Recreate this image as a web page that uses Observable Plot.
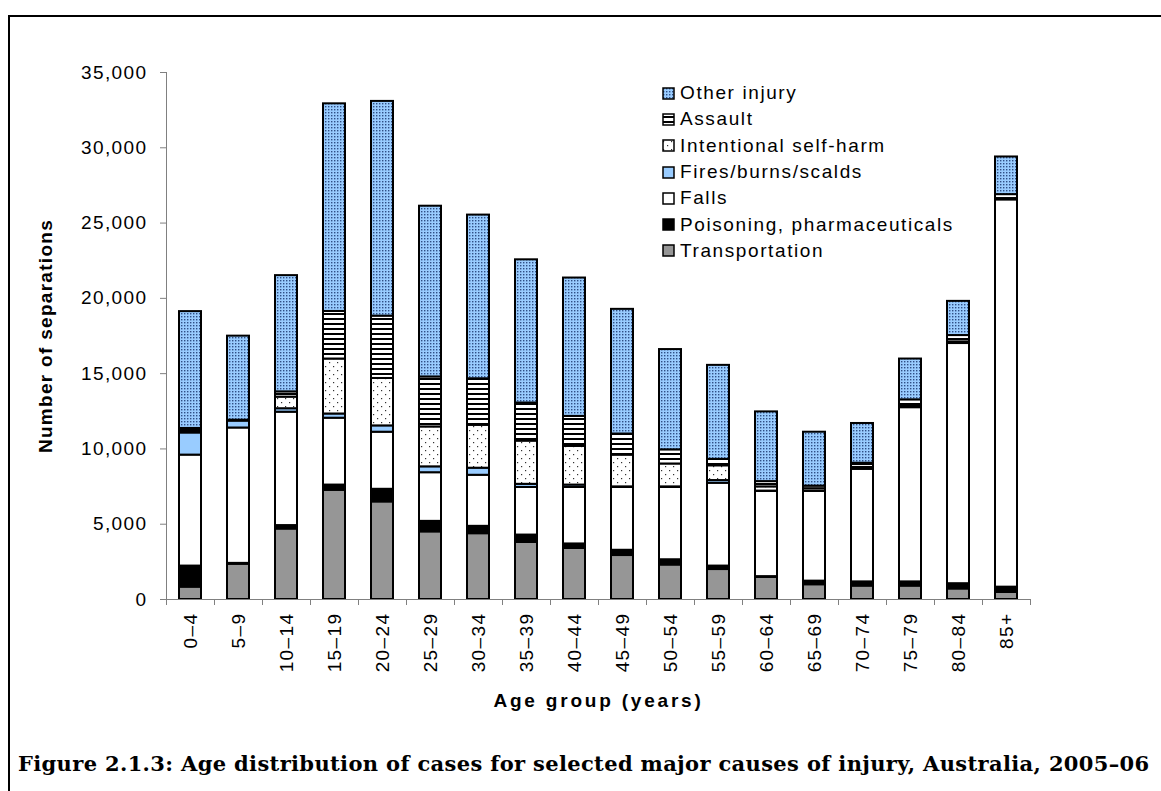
<!DOCTYPE html>
<html>
<head>
<meta charset="utf-8">
<script src="https://cdn.jsdelivr.net/npm/d3@7"></script>
<script src="https://cdn.jsdelivr.net/npm/@observablehq/plot@0.6"></script>
<style>
  html, body { margin: 0; padding: 0; background: #fff; }
  body { width: 1161px; height: 791px; position: relative; overflow: hidden; font-family: "Liberation Sans", Arimo, Arial, sans-serif; }
  #frame { position: absolute; left: 8px; top: 15px; right: -10px; bottom: -10px; border-left: 2px solid #000; border-top: 2px solid #000; }
  #chart { position: absolute; left: 0; top: 0; }
  #legend { position: absolute; left: 662px; top: 80px; font-size: 19px; letter-spacing: 1.6px; color: #000; }
  #legend .row { display: flex; align-items: center; height: 26.3px; }
  #legend svg { margin-right: 5px; }
  #caption { position: absolute; left: 18px; top: 751px; font-family: "DejaVu Serif", "Liberation Serif", serif; font-weight: bold; font-size: 21px; letter-spacing: 0.35px; white-space: nowrap; color: #000; }
</style>
</head>
<body>
<div id="frame"></div>
<div id="chart"></div>
<div id="legend"></div>
<div id="caption">Figure 2.1.3: Age distribution of cases for selected major causes of injury, Australia, 2005–06</div>
<script>
const ages = ["0–4","5–9","10–14","15–19","20–24","25–29","30–34","35–39","40–44","45–49","50–54","55–59","60–64","65–69","70–74","75–79","80–84","85+"];
const causes = ["Transportation","Poisoning, pharmaceuticals","Falls","Fires/burns/scalds","Intentional self-harm","Assault","Other injury"];
const transportation = [820,2340,4680,7250,6480,4490,4370,3790,3390,2920,2290,1990,1470,980,890,890,700,470];
const poisoning      = [1400,60,230,350,840,700,490,490,300,350,350,230,50,240,280,280,350,350];
const falls          = [7370,8990,7530,4440,3790,3230,3390,3160,3750,4170,4800,5500,5660,5960,7480,11570,15950,25720];
const fires          = [1470,460,230,280,420,390,470,210,160,40,40,180,20,20,20,50,50,50];
const selfHarm       = [100,30,770,3650,3150,2650,2850,2870,2570,2110,1520,980,280,160,100,70,60,40];
const assault        = [200,30,350,3160,4140,3320,3090,2530,1990,1400,940,430,350,170,280,400,420,260];
const otherInjury    = [7760,5580,7720,13790,14260,11340,10870,9510,9190,8280,6660,6240,4630,3580,2640,2710,2270,2500];
const yTicks = [0,5000,10000,15000,20000,25000,30000,35000];

const seriesValues = [transportation, poisoning, falls, fires, selfHarm, assault, otherInjury];
const fills = ["#969696","#000000","#ffffff","#99ccff","url(#pat-dots)","url(#pat-stripes)","url(#pat-stipple)"];

const data = [];
causes.forEach((c, ci) => ages.forEach((a, ai) => data.push({age: a, cause: c, value: seriesValues[ci][ai]})));

const W = 1161, H = 730, ML = 166, MR = 131, MT = 72, MB = 131;
const half = (W - ML - MR) / ages.length / 2;
const font = "'Liberation Sans', Arimo, Arial, sans-serif";

const chart = Plot.plot({
  width: W, height: H,
  marginLeft: ML, marginRight: MR, marginTop: MT, marginBottom: MB,
  style: {fontFamily: font, fontSize: "19px", color: "#000", background: "transparent"},
  x: {domain: ages, paddingInner: 0.54, paddingOuter: 0.27},
  y: {domain: [0, 35000]},
  color: {domain: causes, range: fills},
  marks: [
    Plot.barY(data, Plot.stackY({x: "age", y: "value", fill: "cause", stroke: "#000", strokeWidth: 2})),
    Plot.ruleY([0], {stroke: "#808080", strokeWidth: 1}),
    Plot.ruleX([ages[0]], {y1: 0, y2: 35000, dx: -half, stroke: "#808080", strokeWidth: 1}),
    Plot.ruleX(ages, {y1: 0, y2: 0, insetBottom: -6, dx: -half, stroke: "#808080", strokeWidth: 1}),
    Plot.ruleX([ages[ages.length - 1]], {y1: 0, y2: 0, insetBottom: -6, dx: half, stroke: "#808080", strokeWidth: 1}),
    Plot.axisY({ticks: yTicks, tickFormat: d3.format(","), tickSize: 6, tickPadding: 13, stroke: "#808080", fill: "#000", label: null}),
    Plot.axisY({ticks: [], label: "Number of separations", labelArrow: false, labelAnchor: "center", labelOffset: 128, fontWeight: "bold"}),
    Plot.axisX({tickSize: 0, tickPadding: 13, tickRotate: -90, fill: "#000", label: null}),
    Plot.axisX({ticks: [], label: "Age group (years)", labelArrow: false, labelAnchor: "center", labelOffset: 107, fontWeight: "bold"})
  ]
});

const svg = d3.select(chart);
const defs = svg.insert("defs", ":first-child");
const st = defs.append("pattern").attr("id", "pat-stipple").attr("patternUnits", "userSpaceOnUse").attr("width", 3).attr("height", 3);
st.append("rect").attr("width", 3).attr("height", 3).attr("fill", "#99ccff");
st.append("rect").attr("x", 1).attr("y", 1).attr("width", 1.4).attr("height", 1.4).attr("fill", "#2f4f86");
const sp = defs.append("pattern").attr("id", "pat-stripes").attr("patternUnits", "userSpaceOnUse").attr("width", 6).attr("height", 5);
sp.append("rect").attr("width", 6).attr("height", 5).attr("fill", "#fff");
sp.append("rect").attr("y", 3).attr("width", 6).attr("height", 2).attr("fill", "#000");
const dt = defs.append("pattern").attr("id", "pat-dots").attr("patternUnits", "userSpaceOnUse").attr("width", 8).attr("height", 8);
dt.append("rect").attr("width", 8).attr("height", 8).attr("fill", "#fff");
dt.append("rect").attr("x", 1).attr("y", 2).attr("width", 1.2).attr("height", 1.2).attr("fill", "#333");
dt.append("rect").attr("x", 5).attr("y", 6).attr("width", 1.2).attr("height", 1.2).attr("fill", "#333");

svg.selectAll('g[aria-label="y-axis tick label"] text, g[aria-label="x-axis tick label"] text').style("letter-spacing", "1.4px");
svg.selectAll('g[aria-label="y-axis label"] text').style("letter-spacing", "1.3px");
svg.selectAll('g[aria-label="x-axis label"] text').style("letter-spacing", "2.8px");

document.getElementById("chart").appendChild(chart);

const legend = d3.select("#legend");
const order = causes.slice().reverse();
order.forEach(c => {
  const row = legend.append("div").attr("class", "row");
  const s = row.append("svg").attr("width", 13).attr("height", 13);
  s.append("rect").attr("x", 1).attr("y", 1).attr("width", 11).attr("height", 11)
    .attr("fill", fills[causes.indexOf(c)]).attr("stroke", "#000").attr("stroke-width", 1.5);
  row.append("span").text(c);
});
</script>
</body>
</html>
